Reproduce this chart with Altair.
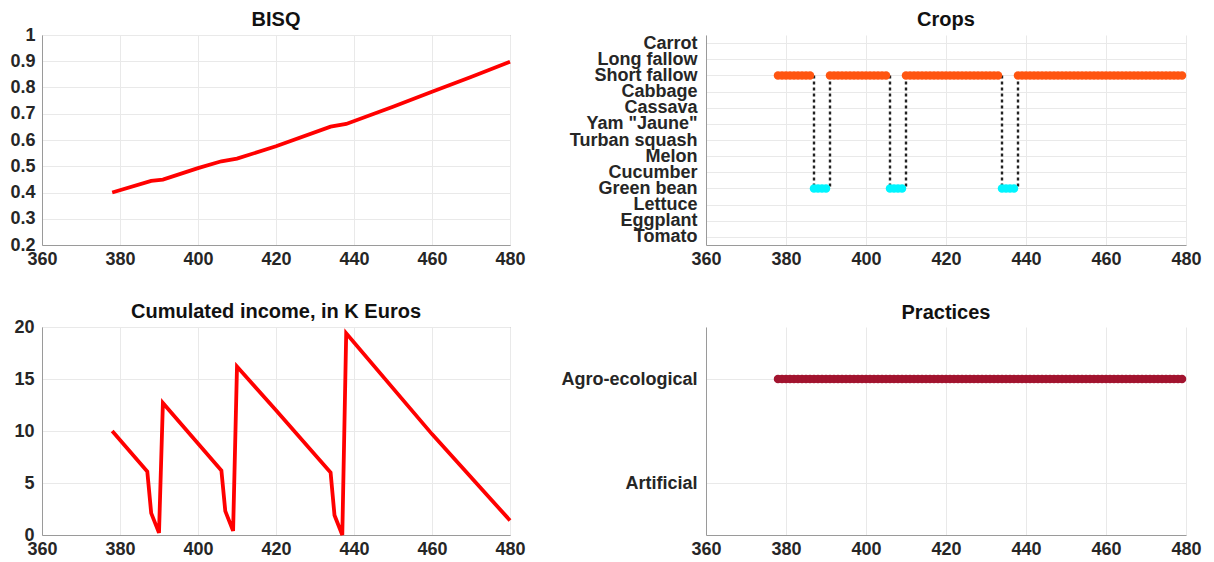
import json
import altair as alt
import pandas as pd

# ---------------- data ----------------
x_ticks = [360, 380, 400, 420, 440, 460, 480]

bisq_t = [378, 388, 391, 400, 406, 410, 420, 434, 438, 450, 460, 470, 480]
bisq_v = [0.400, 0.444, 0.449, 0.493, 0.519, 0.529, 0.576, 0.651, 0.661, 0.727, 0.784, 0.840, 0.898]
bisq_ticks = [0.2, 0.3, 0.4, 0.5, 0.6, 0.7, 0.8, 0.9, 1.0]

income_t = [378, 387, 388, 390, 391, 400, 406, 407, 409, 410, 420, 434, 435, 437, 438, 460, 480]
income_v = [10.0, 6.1, 2.1, 0.2, 12.7, 8.8, 6.2, 2.3, 0.4, 16.2, 12.0, 6.0, 1.9, 0.0, 19.4, 9.7, 1.4]
income_ticks = [0, 5, 10, 15, 20]

crop_names = ["Carrot", "Long fallow", "Short fallow", "Cabbage", "Cassava", 'Yam "Jaune"',
              "Turban squash", "Melon", "Cucumber", "Green bean", "Lettuce", "Eggplant", "Tomato"]
short_fallow_segments = [(378, 386), (391, 405), (410, 433), (438, 479)]
green_bean_segments = [(387, 390), (406, 409), (434, 437)]
transition_t = [387, 391, 406, 410, 434, 438]

practice_names = ["Agro-ecological", "Artificial"]
agro_segments = [(378, 479)]

# ---------------- tables ----------------
n_crops = len(crop_names)
crop_idx = {name: n_crops - i for i, name in enumerate(crop_names)}  # Carrot on top

rows = []
for a, b in short_fallow_segments:
    for t in range(a, b + 1):
        rows.append({"t": t, "crop": "Short fallow", "y": crop_idx["Short fallow"]})
for a, b in green_bean_segments:
    for t in range(a, b + 1):
        rows.append({"t": t, "crop": "Green bean", "y": crop_idx["Green bean"]})
crops_df = pd.DataFrame(rows)
trans_df = pd.DataFrame({"t": transition_t,
                         "y": [crop_idx["Short fallow"]] * len(transition_t),
                         "y2": [crop_idx["Green bean"]] * len(transition_t)})

n_prac = len(practice_names)
prac_idx = {name: n_prac - i for i, name in enumerate(practice_names)}
prows = []
for a, b in agro_segments:
    for t in range(a, b + 1):
        prows.append({"t": t, "y": prac_idx["Agro-ecological"]})
prac_df = pd.DataFrame(prows)

bisq_df = pd.DataFrame({"t": bisq_t, "v": bisq_v})
income_df = pd.DataFrame({"t": income_t, "v": income_v})

# ---------------- styling ----------------
FONT = "Liberation Sans"
LEFT_W, RIGHT_W = 468, 480
TOP_H, BOT_H = 210, 208
BOX = alt.ViewBackground(stroke="#9a9a9a", strokeWidth=1)


def xenc():
    return alt.X("t:Q", scale=alt.Scale(domain=[360, 480], nice=False, zero=False),
                 axis=alt.Axis(values=x_ticks, title=None, format="d", labelPadding=5,
                               labelFlush=False))


def ttl(text, off):
    return alt.TitleParams(text=text, offset=off)


# BISQ
bisq = alt.Chart(bisq_df).mark_line(color="#ff0000", strokeWidth=3.8).encode(
    x=xenc(),
    y=alt.Y("v:Q", scale=alt.Scale(domain=[0.2, 1.0], nice=False, zero=False),
            axis=alt.Axis(values=bisq_ticks, format="~g", title=None)),
).properties(width=LEFT_W, height=TOP_H, title=ttl("BISQ", -4), view=BOX)

# Crops
crop_label_arr = json.dumps(crop_names[::-1])
crop_y_axis = alt.Axis(values=list(range(1, n_crops + 1)), title=None,
                       labelExpr=f"{crop_label_arr}[datum.value - 1]", labelPadding=9)
crop_scale = alt.Scale(domain=[0.5, n_crops + 0.5], nice=False, zero=False)

rules = alt.Chart(trans_df).mark_rule(color="#222222", strokeWidth=2.4, strokeDash=[3, 3]).encode(
    x=xenc(), y=alt.Y("y:Q", scale=crop_scale, axis=crop_y_axis), y2="y2:Q")
dots = alt.Chart(crops_df).mark_circle(size=72, opacity=1).encode(
    x=xenc(), y=alt.Y("y:Q", scale=crop_scale, axis=crop_y_axis),
    color=alt.Color("crop:N", scale=alt.Scale(domain=["Short fallow", "Green bean"],
                                             range=["#ff5510", "#00f5ff"]), legend=None))
crops = alt.layer(rules, dots).properties(width=RIGHT_W, height=TOP_H, title=ttl("Crops", 4))

# Income
income = alt.Chart(income_df).mark_line(color="#ff0000", strokeWidth=3.8).encode(
    x=xenc(),
    y=alt.Y("v:Q", scale=alt.Scale(domain=[0, 20], nice=False),
            axis=alt.Axis(values=income_ticks, title=None, labelPadding=8)),
).properties(width=LEFT_W, height=BOT_H, title=ttl("Cumulated income, in K Euros", -4), view=BOX)

# Practices
prac_label_arr = json.dumps(practice_names[::-1])
practices = alt.Chart(prac_df).mark_circle(size=72, opacity=1, color="#a2142f").encode(
    x=xenc(),
    y=alt.Y("y:Q", scale=alt.Scale(domain=[0.5, n_prac + 0.5], nice=False, zero=False),
            axis=alt.Axis(values=list(range(1, n_prac + 1)), title=None,
                          labelExpr=f"{prac_label_arr}[datum.value - 1]", labelPadding=9)),
).properties(width=RIGHT_W, height=BOT_H, title=ttl("Practices", 4))

chart = alt.concat(bisq, crops, income, practices, columns=2,
                   spacing={"row": 82, "column": 196}).properties(
    bounds="flush",
    padding={"left": 1, "top": 1, "right": 0, "bottom": 0},
).configure_view(stroke=None).configure_axis(
    labelFont=FONT, labelFontWeight="bold", labelFontSize=18, labelColor="#262626",
    domainColor="#9a9a9a", gridColor="#e9e9e9", gridWidth=1, ticks=False,
    labelOverlap=False, labelPadding=7,
).configure_title(
    font=FONT, fontWeight="bold", fontSize=20, color="#111111",
    anchor="middle", frame="group",
)

chart.save("out.html", embed_options={"renderer": "svg", "actions": False})
